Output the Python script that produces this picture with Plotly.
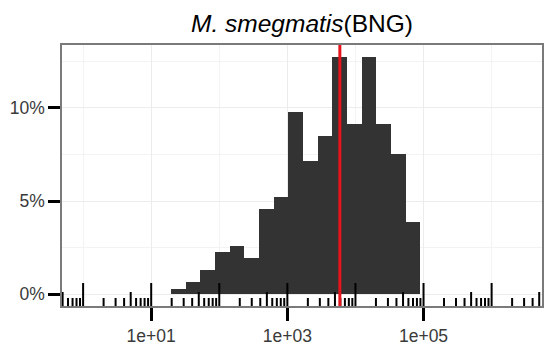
import numpy as np
import plotly.graph_objects as go

# ---- data ----
bin_start_log10 = 1.291          # left edge of first non-empty bin (log10 units)
bin_width_log10 = 0.2154         # histogram bin width (log10 units)
percent = [0.30, 0.63, 1.30, 2.26, 2.58, 1.93, 4.55, 5.22, 9.80, 7.13,
           8.50, 12.74, 9.14, 12.74, 9.14, 7.52, 3.87]
median_value = 5900              # red reference line
x_tick_values = [1e1, 1e3, 1e5]
x_tick_labels = ["1e+01", "1e+03", "1e+05"]
y_tick_values = [0, 5, 10]
y_tick_labels = ["0%", "5%", "10%"]
title_italic = "M. smegmatis"
title_rest = "(BNG)"

FONT = "Liberation Sans, Arial, sans-serif"

centers = [bin_start_log10 + bin_width_log10 * (i + 0.5) for i in range(len(percent))]

fig = go.Figure()
fig.add_trace(go.Bar(
    x=centers, y=percent, width=bin_width_log10,
    marker=dict(color="#333333", line=dict(width=0)),
    hoverinfo="skip", showlegend=False,
))

xr = [-0.31, 6.74]
yr = [-0.637, 13.38]

shapes = []
# log ticks along the bottom of the panel
for k in range(-2, 9):
    for m in range(1, 10):
        xv = k + np.log10(m)
        if xr[0] < xv < xr[1]:
            ln = 23 if m == 1 else (14 if m == 5 else 8)
            shapes.append(dict(type="line", xref="x", yref="paper",
                               ysizemode="pixel", yanchor=0,
                               x0=xv, x1=xv, y0=0, y1=ln,
                               line=dict(color="black", width=2)))
# median line
xm = np.log10(median_value)
shapes.append(dict(type="line", xref="x", yref="paper", x0=xm, x1=xm, y0=0, y1=1,
                   line=dict(color="#e8141c", width=3)))

fig.update_layout(
    width=547, height=349,
    margin=dict(l=62, r=3, t=45, b=42),
    paper_bgcolor="white", plot_bgcolor="white",
    bargap=0,
    shapes=shapes,
    title=dict(text=f"<i>{title_italic}</i>{title_rest}",
               x=0.5, xref="paper", xanchor="center",
               y=1 - 23 / 349, yref="container", yanchor="middle",
               font=dict(family=FONT, size=24.5, color="black")),
    font=dict(family=FONT),
)
fig.update_xaxes(
    range=xr, tickmode="array",
    tickvals=list(np.log10(x_tick_values)), ticktext=x_tick_labels,
    ticks="outside", ticklen=13, tickwidth=2.5, tickcolor="black",
    tickfont=dict(family=FONT, size=17.5, color="#3a3a3a"),
    showgrid=True, gridcolor="#ECECEC", gridwidth=1,
    minor=dict(tickvals=[0, 2, 4, 6], showgrid=True, gridcolor="#F3F3F3", gridwidth=1, ticks=""),
    showline=True, linecolor="#7a7a7a", linewidth=1.5, mirror=True,
    zeroline=False, fixedrange=True,
)
fig.update_yaxes(
    range=yr, tickmode="array",
    tickvals=y_tick_values, ticktext=y_tick_labels,
    ticks="outside", ticklen=12, tickwidth=2.5, tickcolor="black",
    tickfont=dict(family=FONT, size=17.5, color="#3a3a3a"),
    showgrid=True, gridcolor="#ECECEC", gridwidth=1,
    minor=dict(tickvals=[2.5, 7.5, 12.5], showgrid=True, gridcolor="#F3F3F3", gridwidth=1, ticks=""),
    showline=True, linecolor="#7a7a7a", linewidth=1.5, mirror=True,
    zeroline=False, fixedrange=True,
)

fig.write_html("out.html")
